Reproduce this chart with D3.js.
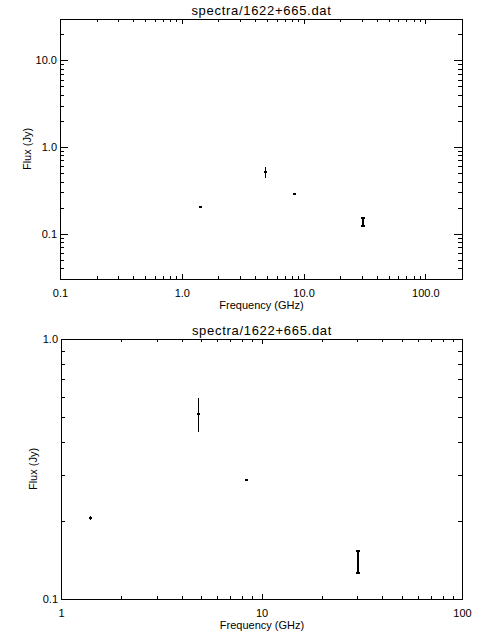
<!DOCTYPE html>
<html>
<head>
<meta charset="utf-8">
<script src="https://cdn.jsdelivr.net/npm/d3@7"></script>
<style>
  body { margin: 0; background: #fff; }
  svg { display: block; }
</style>
</head>
<body>
<div class="chart"></div>
<script>
// spectrum of 1622+665
var freq = [1.4, 4.85, 8.4, 30];        // GHz
var flux = [0.205, 0.515, 0.288, 0.141]; // Jy
var fluxErr = [0.003, 0.077, 0.002, 0.014];

var title = "spectra/1622+665.dat";
var xTitle = "Frequency (GHz)";
var yTitle = "Flux (Jy)";

// tick labels
var topXTicks = [0.1, 1, 10, 100];
var topXLabels = ["0.1", "1.0", "10.0", "100.0"];
var topYTicks = [0.1, 1, 10];
var topYLabels = ["0.1", "1.0", "10.0"];
var botXTicks = [1, 10, 100];
var botXLabels = ["1", "10", "100"];
var botYTicks = [0.1, 1];
var botYLabels = ["0.1", "1.0"];

var svgWidth = 480;
var svgHeight = 640;
var font = "'Liberation Sans', Arial, sans-serif";

var data = freq.map((f, i) => ({ freq: f, flux: flux[i], err: fluxErr[i] }));

var svg = d3.select(".chart")
  .append("svg")
  .attr("width", svgWidth)
  .attr("height", svgHeight);

svg.append("rect")
  .attr("width", svgWidth)
  .attr("height", svgHeight)
  .attr("fill", "#fff");

// minor ticks at 2..9 of every decade inside the domain
function minorTicks(domain) {
  var out = [];
  var lo = Math.floor(Math.log10(domain[0]));
  var hi = Math.ceil(Math.log10(domain[1]));
  for (var e = lo; e < hi; e++) {
    for (var m = 2; m <= 9; m++) {
      var v = +(m * Math.pow(10, e)).toPrecision(6);
      if (v >= domain[0] && v <= domain[1]) out.push(v);
    }
  }
  return out;
}

function styleAxis(g) {
  g.attr("font-family", font).attr("font-size", 11);
  g.selectAll("line, path").attr("stroke", "#000").attr("shape-rendering", "crispEdges");
  g.selectAll("text").attr("fill", "#000");
}

function drawPanel(cfg) {
  var g = svg.append("g");

  var x = d3.scaleLog().domain(cfg.xDomain).range([cfg.left, cfg.right]);
  var y = d3.scaleLog().domain(cfg.yDomain).range([cfg.bottom, cfg.top]);

  // bottom axis with labels
  g.append("g")
    .attr("transform", `translate(0, ${cfg.bottom})`)
    .call(d3.axisBottom(x).tickValues(cfg.xTicks)
      .tickFormat((d, i) => cfg.xLabels[i])
      .tickSizeInner(-5).tickSizeOuter(0).tickPadding(10))
    .call(styleAxis);

  g.append("g")
    .attr("transform", `translate(0, ${cfg.top})`)
    .call(d3.axisTop(x).tickValues(cfg.xTicks).tickFormat("")
      .tickSizeInner(-5).tickSizeOuter(0))
    .call(styleAxis);

  // minor x ticks
  [[d3.axisBottom, cfg.bottom], [d3.axisTop, cfg.top]].forEach(function(a) {
    g.append("g")
      .attr("transform", `translate(0, ${a[1]})`)
      .call(a[0](x).tickValues(minorTicks(cfg.xDomain)).tickFormat("")
        .tickSizeInner(-3).tickSizeOuter(0))
      .call(styleAxis)
      .select(".domain").remove();
  });

  // left axis with labels
  g.append("g")
    .attr("transform", `translate(${cfg.left}, 0)`)
    .call(d3.axisLeft(y).tickValues(cfg.yTicks)
      .tickFormat((d, i) => cfg.yLabels[i])
      .tickSizeInner(-8).tickSizeOuter(0).tickPadding(3))
    .call(styleAxis);

  g.append("g")
    .attr("transform", `translate(${cfg.right}, 0)`)
    .call(d3.axisRight(y).tickValues(cfg.yTicks).tickFormat("")
      .tickSizeInner(-8).tickSizeOuter(0))
    .call(styleAxis);

  // minor y ticks
  [[d3.axisLeft, cfg.left], [d3.axisRight, cfg.right]].forEach(function(a) {
    g.append("g")
      .attr("transform", `translate(${a[1]}, 0)`)
      .call(a[0](y).tickValues(minorTicks(cfg.yDomain)).tickFormat("")
        .tickSizeInner(-4).tickSizeOuter(0))
      .call(styleAxis)
      .select(".domain").remove();
  });

  // titles
  g.append("text")
    .attr("x", (cfg.left + cfg.right) / 2 + 0.5)
    .attr("y", cfg.top - 4)
    .attr("text-anchor", "middle")
    .attr("font-family", font)
    .attr("font-size", 13)
    .attr("letter-spacing", "0.7px")
    .text(title);

  g.append("text")
    .attr("x", (cfg.left + cfg.right) / 2 + 0.5)
    .attr("y", cfg.bottom + 30)
    .attr("text-anchor", "middle")
    .attr("font-family", font)
    .attr("font-size", 11)
    .text(xTitle);

  g.append("text")
    .attr("transform", `translate(${cfg.yTitleX}, ${(cfg.top + cfg.bottom) / 2}) rotate(-90)`)
    .attr("text-anchor", "middle")
    .attr("font-family", font)
    .attr("font-size", 11)
    .text(yTitle);

  // error bars (30 GHz point drawn heavier with caps, as in the original)
  var pts = g.append("g").attr("shape-rendering", "crispEdges");

  pts.selectAll("line.err")
    .data(data)
    .enter()
    .append("line")
    .attr("class", "err")
    .attr("x1", d => Math.round(x(d.freq)) + 0.5)
    .attr("x2", d => Math.round(x(d.freq)) + 0.5)
    .attr("y1", d => y(d.flux + d.err))
    .attr("y2", d => y(d.flux - d.err))
    .attr("stroke", "#000")
    .attr("stroke-width", d => d.freq >= 20 ? 2 : 1);

  var capped = data.filter(d => d.freq >= 20);
  pts.selectAll("line.cap")
    .data(capped.flatMap(d => [
      { freq: d.freq, v: d.flux + d.err },
      { freq: d.freq, v: d.flux - d.err }
    ]))
    .enter()
    .append("line")
    .attr("class", "cap")
    .attr("x1", d => Math.round(x(d.freq)) - 1.5)
    .attr("x2", d => Math.round(x(d.freq)) + 2.5)
    .attr("y1", d => Math.round(y(d.v)) + 0.5)
    .attr("y2", d => Math.round(y(d.v)) + 0.5)
    .attr("stroke", "#000")
    .attr("stroke-width", 2);

  // point markers (hidden inside the heavy bar for the capped point)
  pts.selectAll("rect.pt")
    .data(data.filter(d => d.freq < 20))
    .enter()
    .append("rect")
    .attr("class", "pt")
    .attr("x", d => Math.round(x(d.freq)) - 1)
    .attr("y", d => Math.round(y(d.flux)) - 1)
    .attr("width", 3)
    .attr("height", 2)
    .attr("fill", "#000");
}

drawPanel({
  left: 60, right: 462, top: 19, bottom: 279,
  xDomain: [0.1, 200], yDomain: [0.03, 30],
  xTicks: topXTicks, xLabels: topXLabels,
  yTicks: topYTicks, yLabels: topYLabels,
  yTitleX: 31
});

drawPanel({
  left: 61, right: 462, top: 339, bottom: 599,
  xDomain: [1, 100], yDomain: [0.1, 1],
  xTicks: botXTicks, xLabels: botXLabels,
  yTicks: botYTicks, yLabels: botYLabels,
  yTitleX: 37
});
</script>
</body>
</html>
